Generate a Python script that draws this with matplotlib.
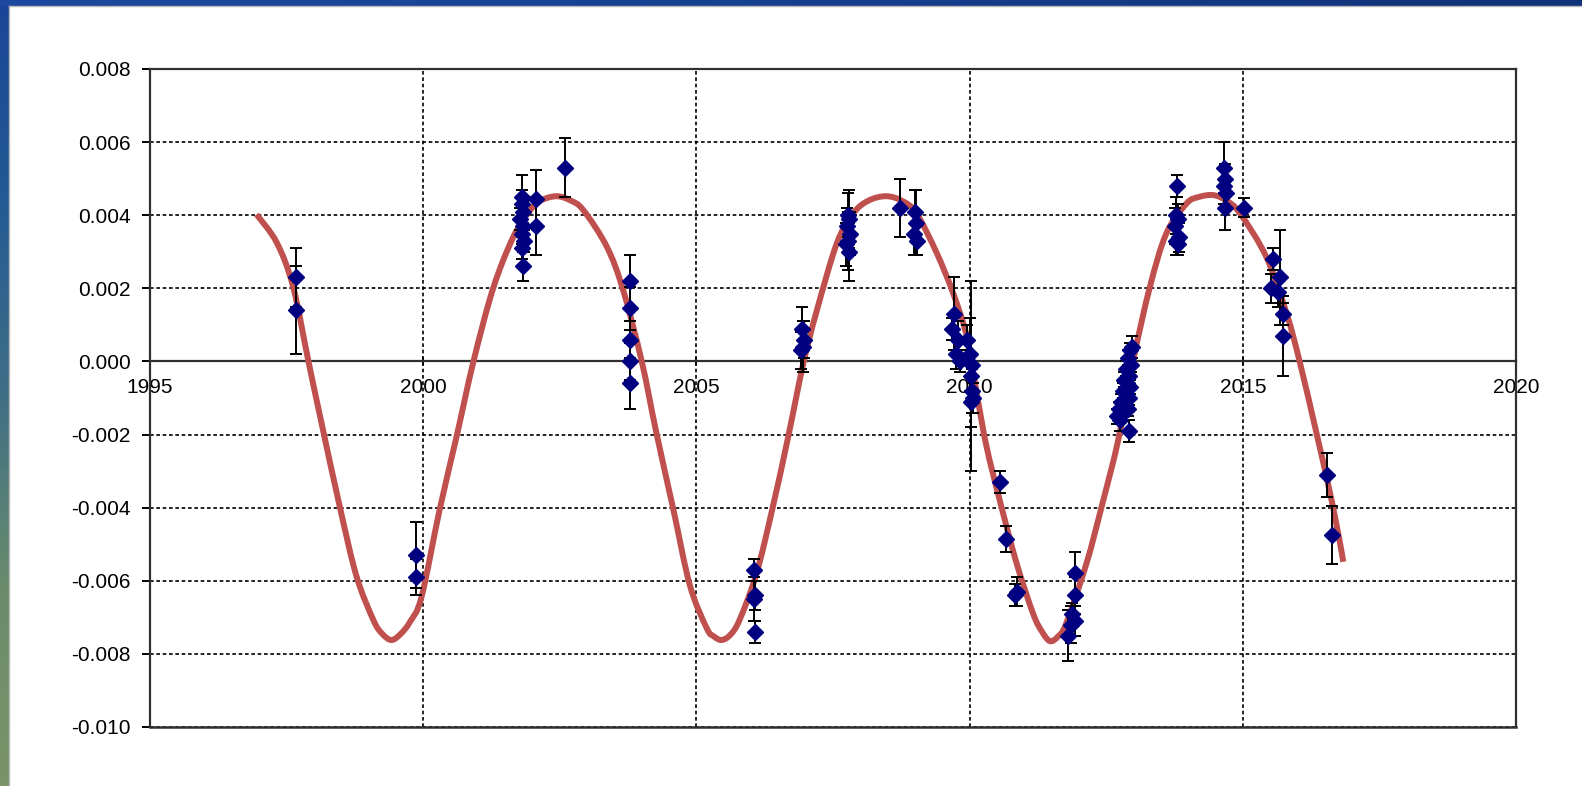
import numpy as np
import matplotlib
matplotlib.use("Agg")
import matplotlib.pyplot as plt
from matplotlib.path import Path
from matplotlib.patches import PathPatch
from matplotlib.colors import LinearSegmentedColormap

plt.rcParams['font.family'] = ['Liberation Sans', 'DejaVu Sans']
plt.rcParams['axes.unicode_minus'] = False

# fitted curve
fit_year = [1996.95, 1997.32, 1997.62, 1997.90, 1998.14, 1998.48, 1998.78, 1999.09, 1999.25,
            1999.42, 1999.59, 1999.76, 1999.97, 2000.30, 2000.61, 2000.92, 2001.28, 2001.65,
            2001.96, 2002.15, 2002.44, 2002.70, 2002.93, 2003.36, 2003.66, 2004.00, 2004.27,
            2004.58, 2004.88, 2005.19, 2005.32, 2005.46, 2005.62, 2005.79, 2006.10, 2006.40,
            2006.68, 2006.95, 2007.19, 2007.57, 2007.87, 2008.15, 2008.48, 2008.78, 2009.03,
            2009.40, 2009.70, 2009.95, 2010.13, 2010.31, 2010.55, 2010.86, 2011.16, 2011.32,
            2011.47, 2011.62, 2011.77, 2012.14, 2012.42, 2012.72, 2012.99, 2013.30, 2013.60,
            2013.97, 2014.20, 2014.46, 2014.70, 2014.95, 2015.43, 2015.80, 2016.04, 2016.35,
            2016.65, 2016.84]
fit_oc = [0.00402, 0.00325, 0.00204, 0.0, -0.00169, -0.00402, -0.00588, -0.00708, -0.00745,
          -0.00762, -0.00745, -0.00712, -0.00644, -0.00406, -0.00206, 0.0, 0.00200, 0.00341,
          0.00414, 0.00440, 0.00452, 0.00440, 0.00414, 0.00314, 0.00195, 0.0, -0.00197,
          -0.00406, -0.00612, -0.00730, -0.00752, -0.00762, -0.00748, -0.00707, -0.00580, -0.00397,
          -0.00206, -0.00010, 0.00132, 0.00323, 0.00405, 0.00440, 0.00452, 0.00438, 0.00405,
          0.00296, 0.00186, 0.00068, -0.00087, -0.00233, -0.00379, -0.00552, -0.00689, -0.00738,
          -0.00765, -0.00752, -0.00716, -0.00552, -0.00395, -0.00215, 0.0, 0.00204, 0.00350,
          0.00432, 0.00450, 0.00455, 0.00440, 0.00405, 0.00286, 0.00132, 0.0, -0.00197,
          -0.00397, -0.00548]

# observed O-C points
obs_year = [1997.67, 1997.67,
            1999.87, 1999.87,
            2001.80, 2001.80, 2001.82, 2001.78, 2001.82, 2001.80, 2001.84, 2001.80, 2001.82,
            2002.07, 2002.07, 2002.60,
            2003.78, 2003.78, 2003.78, 2003.78, 2003.78,
            2006.05, 2006.08, 2006.05, 2006.07,
            2006.93, 2006.97, 2006.95, 2006.92,
            2007.78, 2007.80, 2007.76, 2007.82, 2007.78, 2007.74, 2007.80,
            2008.73, 2009.00, 2009.02, 2008.98, 2009.03,
            2009.72, 2009.68, 2009.78, 2009.75, 2009.82, 2009.95, 2010.00, 2010.05, 2010.02,
            2010.04, 2010.06, 2010.02,
            2010.56, 2010.66, 2010.86, 2010.84,
            2011.92, 2011.93, 2011.88, 2011.93, 2011.85, 2011.80,
            2012.97, 2012.93, 2012.90, 2012.95, 2012.86, 2012.92, 2012.83, 2012.88, 2012.94,
            2012.80, 2012.86, 2012.92, 2012.77, 2012.84, 2012.90, 2012.73, 2012.80, 2012.70,
            2012.76, 2012.92,
            2013.80, 2013.78, 2013.82, 2013.76, 2013.84, 2013.78, 2013.82,
            2014.66, 2014.68, 2014.66, 2014.69, 2014.67,
            2015.02,
            2015.55, 2015.68, 2015.52, 2015.65, 2015.74, 2015.74,
            2016.55, 2016.63]
obs_oc = [0.0023, 0.0014,
          -0.0053, -0.0059,
          0.0045, 0.0043, 0.0041, 0.0039, 0.0037, 0.0035, 0.0033, 0.0031, 0.0026,
          0.00445, 0.0037, 0.0053,
          0.0022, 0.00145, 0.0006, 0.0000, -0.0006,
          -0.0057, -0.0064, -0.0065, -0.0074,
          0.0009, 0.0006, 0.0004, 0.0003,
          0.0040, 0.0039, 0.0037, 0.0035, 0.0033, 0.0032, 0.0030,
          0.0042, 0.0041, 0.0038, 0.0035, 0.0033,
          0.0013, 0.0009, 0.0006, 0.0002, 0.0000, 0.0006, 0.0002, -0.0001, -0.0004,
          -0.0008, -0.0010, -0.0011,
          -0.0033, -0.00485, -0.0063, -0.0064,
          -0.0058, -0.0064, -0.0069, -0.0071, -0.0072, -0.0075,
          0.0004, 0.0003, 0.0001, -0.0001, -0.0002, -0.0004, -0.0005, -0.0006, -0.0007,
          -0.0008, -0.0009, -0.0010, -0.0011, -0.0012, -0.0013, -0.0013, -0.0014, -0.0015,
          -0.0016, -0.0019,
          0.0048, 0.0040, 0.0039, 0.0037, 0.0034, 0.0033, 0.0032,
          0.0053, 0.0050, 0.0048, 0.0046, 0.0042,
          0.0042,
          0.0028, 0.0023, 0.0020, 0.0019, 0.0013, 0.0007,
          -0.0031, -0.00475]
obs_err = [0.0008, 0.0012,
           0.0009, 0.0005,
           0.0006, 0.0004, 0.0003, 0.0003, 0.0003, 0.0003, 0.0003, 0.0003, 0.0004,
           0.0008, 0.0008, 0.0008,
           0.0007, 0.0006, 0.0005, 0.0005, 0.0007,
           0.0003, 0.0004, 0.0006, 0.0003,
           0.0006, 0.0005, 0.0007, 0.0005,
           0.0006, 0.0008, 0.0005, 0.0006, 0.0008, 0.0006, 0.0008,
           0.0008, 0.0006, 0.0009, 0.0006, 0.0004,
           0.0010, 0.0003, 0.0005, 0.0004, 0.0003, 0.0004, 0.0010, 0.0003, 0.0026,
           0.0006, 0.0004, 0.0007,
           0.0003, 0.00035, 0.0004, 0.0003,
           0.0006, 0.0005, 0.0003, 0.0004, 0.0005, 0.0007,
           0.0003, 0.0002, 0.0002, 0.0002, 0.0002, 0.0002, 0.0002, 0.0002, 0.0002,
           0.0002, 0.0002, 0.0002, 0.0002, 0.0002, 0.0002, 0.0002, 0.0002, 0.0002,
           0.0003, 0.0003,
           0.0003, 0.0005, 0.0004, 0.0005, 0.0004, 0.0004, 0.0003,
           0.0007, 0.0004, 0.0005, 0.0004, 0.0006,
           0.00026,
           0.0003, 0.0013, 0.0004, 0.0004, 0.0003, 0.0011,
           0.0006, 0.0008]

year_ticks = [1995, 2000, 2005, 2010, 2015, 2020]
oc_ticks = [0.008, 0.006, 0.004, 0.002, 0.000, -0.002, -0.004, -0.006, -0.008, -0.010]


def smooth_path(xs, ys):
    # Catmull-Rom through the read points, drawn as cubic Beziers
    p = np.column_stack([xs, ys])
    n = len(p)
    verts = [p[0]]
    codes = [Path.MOVETO]
    for i in range(n - 1):
        p0 = p[i - 1] if i > 0 else p[i]
        p3 = p[i + 2] if i + 2 < n else p[i + 1]
        c1 = p[i] + (p[i + 1] - p0) / 6
        c2 = p[i + 1] - (p3 - p[i]) / 6
        verts += [c1, c2, p[i + 1]]
        codes += [Path.CURVE4] * 3
    return Path(verts, codes)


W, H = 1582, 786
fig = plt.figure(figsize=(W / 100, H / 100), dpi=100)
fig.patch.set_facecolor('white')

# window border (top and left strips)
grad = np.linspace(0, 1, 256).reshape(-1, 1)
lax = fig.add_axes([0, 0, 9 / W, 1])
cmap_l = LinearSegmentedColormap.from_list('l', ['#1a4598', '#245a94', '#3f6f86', '#6a8c6c', '#7a9468'])
lax.imshow(grad, aspect='auto', cmap=cmap_l, extent=[0, 1, 1, 0])
lax.axis('off')
tax = fig.add_axes([0, 1 - 6 / H, 1, 6 / H])
cmap_t = LinearSegmentedColormap.from_list('t', ['#1d4aa0', '#16408f', '#0f3278'])
tax.imshow(grad.T, aspect='auto', cmap=cmap_t)
tax.axis('off')
fig.add_artist(plt.Line2D([9 / W, 9 / W], [0, 1 - 6 / H], color='#b8b8b8', lw=1))
fig.add_artist(plt.Line2D([9 / W, 1], [1 - 6 / H, 1 - 6 / H], color='#b8b8b8', lw=1))

ax = fig.add_axes([150 / W, 1 - 727 / H, 1366 / W, 658 / H])

ax.add_patch(PathPatch(smooth_path(fit_year, fit_oc), fill=False, edgecolor='#c0504d',
                       lw=4.3, zorder=3, capstyle='butt'))
ax.errorbar(obs_year, obs_oc, yerr=obs_err, fmt='none', ecolor='black',
            elinewidth=1.4, capsize=4, capthick=1.4, zorder=4)
ax.plot(obs_year, obs_oc, linestyle='none', marker='D', markersize=8,
        color='#000080', markeredgecolor='#000080', zorder=5)

ax.set_xlim(1995, 2020)
ax.set_ylim(-0.010, 0.008)
ax.set_xticks(year_ticks)
ax.set_yticks(oc_ticks)
ax.set_yticklabels([f'{v:.3f}' for v in oc_ticks])
ax.set_xticklabels([str(v) for v in year_ticks])

ax.grid(True, color='black', linestyle=(0, (2.2, 1.6)), lw=1.2)
ax.set_axisbelow(True)

for side in ['top', 'left', 'right']:
    ax.spines[side].set_color('#303030')
    ax.spines[side].set_linewidth(1.6)
ax.spines['bottom'].set_position(('data', 0))
ax.spines['bottom'].set_color('#303030')
ax.spines['bottom'].set_linewidth(1.6)
ax.plot([0, 1], [0, 0], transform=ax.transAxes, color='#303030', lw=1.8,
        clip_on=False, zorder=6)

ax.tick_params(axis='y', direction='out', length=6, width=1.4, pad=8, labelsize=15)
ax.tick_params(axis='x', direction='inout', length=6, width=1.2, pad=9, labelsize=15)

fig.savefig('out.png', dpi=100)
